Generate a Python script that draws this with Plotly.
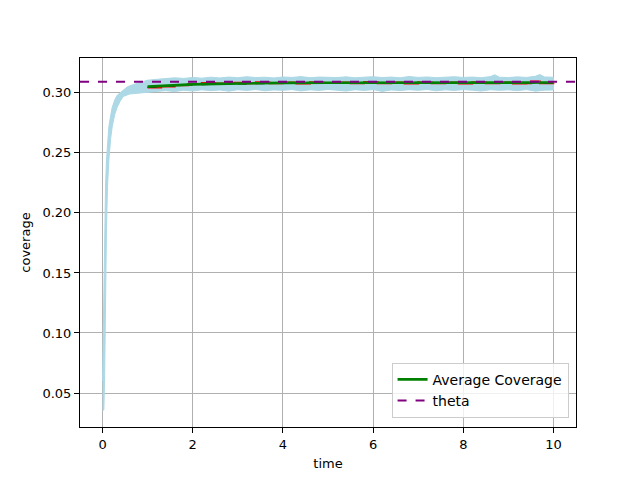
import plotly.graph_objects as go

# time / coverage
theta = 0.3093
x_range = [-0.5, 10.5]

# light blue band of the single runs: upper and lower edge
band_t_up = [0.0, 0.015, 0.03, 0.044, 0.066, 0.088, 0.11, 0.14, 0.18, 0.215, 0.27, 0.325, 0.39, 0.46, 0.55, 0.69, 0.84, 1.0,
             1.2, 1.4, 1.6, 1.8, 2.0, 2.2, 2.4, 2.6, 2.8, 3.0, 3.2, 3.4, 3.6, 3.8, 4.0, 4.2, 4.4, 4.6, 4.8, 5.0,
             5.2, 5.4, 5.6, 5.8, 6.0, 6.2, 6.4, 6.6, 6.8, 7.0, 7.2, 7.4, 7.6, 7.8, 8.0, 8.2, 8.4, 8.6, 8.7, 8.8,
             9.0, 9.2, 9.4, 9.6, 9.7, 9.8, 10.0]
band_up = [0.060, 0.105, 0.150, 0.188, 0.222, 0.244, 0.260, 0.272, 0.281, 0.288, 0.294, 0.298, 0.300, 0.3025, 0.305, 0.307, 0.3085, 0.3105,
           0.3112, 0.3118, 0.3125, 0.3120, 0.3128, 0.3122, 0.3130, 0.3124, 0.3131, 0.3126, 0.3134, 0.3127, 0.3130, 0.3124, 0.3132, 0.3128, 0.3135, 0.3126, 0.3131, 0.3129,
           0.3127, 0.3133, 0.3125, 0.3130, 0.3134, 0.3127, 0.3131, 0.3125, 0.3136, 0.3128, 0.3132, 0.3126, 0.3130, 0.3134, 0.3128, 0.3131, 0.3126, 0.3135, 0.3150, 0.3130,
           0.3127, 0.3133, 0.3128, 0.3138, 0.3152, 0.3132, 0.3130]
band_t_lo = [0.0, 0.029, 0.045, 0.066, 0.088, 0.11, 0.14, 0.18, 0.215, 0.27, 0.325, 0.39, 0.46, 0.6, 0.77, 1.0,
             1.2, 1.4, 1.6, 1.8, 2.0, 2.2, 2.4, 2.6, 2.8, 3.0, 3.2, 3.4, 3.6, 3.8, 4.0, 4.2, 4.4, 4.6, 4.8, 5.0,
             5.2, 5.4, 5.6, 5.8, 6.0, 6.2, 6.4, 6.6, 6.8, 7.0, 7.2, 7.4, 7.6, 7.8, 8.0, 8.2, 8.4, 8.6, 8.8,
             9.0, 9.2, 9.4, 9.6, 9.8, 10.0]
band_lo = [0.035, 0.036, 0.060, 0.105, 0.188, 0.222, 0.244, 0.262, 0.272, 0.282, 0.288, 0.293, 0.297, 0.299, 0.300, 0.3005,
           0.3012, 0.3018, 0.3010, 0.3022, 0.3015, 0.3025, 0.3018, 0.3024, 0.3014, 0.3026, 0.3020, 0.3028, 0.3017, 0.3024, 0.3021, 0.3027, 0.3016, 0.3025, 0.3020, 0.3028,
           0.3022, 0.3015, 0.3026, 0.3020, 0.3027, 0.3012, 0.3024, 0.3019, 0.3026, 0.3021, 0.3028, 0.3017, 0.3025, 0.3020, 0.3027, 0.3022, 0.3015, 0.3026, 0.3021,
           0.3025, 0.3018, 0.3027, 0.3014, 0.3022, 0.3024]

# average coverage (green) from t = 1
avg_t = [1.0, 1.25, 1.5, 1.75, 2.0, 2.5, 3.0, 3.5, 4.0, 5.0, 6.0, 7.0, 8.0, 9.0, 10.0]
avg_cov = [0.3052, 0.3058, 0.3063, 0.3067, 0.3070, 0.3075, 0.3079, 0.3081, 0.3083, 0.3084, 0.3085, 0.3085, 0.3086, 0.3086, 0.3086]

# red running value under the average
red_t = [1.0, 1.3, 1.6, 1.9, 2.2, 2.5, 2.8, 3.1, 3.4, 3.7, 4.0, 4.3, 4.6, 4.9, 5.2, 5.5, 5.8, 6.1, 6.4, 6.7,
         7.0, 7.3, 7.6, 7.9, 8.2, 8.5, 8.8, 9.1, 9.4, 9.5, 9.7, 10.0]
red_cov = [0.3045, 0.3052, 0.3064, 0.3074, 0.3082, 0.3078, 0.3084, 0.3079, 0.3088, 0.3080, 0.3086, 0.3078, 0.3089, 0.3081, 0.3087, 0.3079, 0.3090, 0.3080, 0.3087, 0.3078,
           0.3089, 0.3080, 0.3086, 0.3078, 0.3088, 0.3079, 0.3086, 0.3078, 0.3080, 0.3095, 0.3079, 0.3080]

# black dashed running value
blk_t = [1.0, 1.5, 2.0, 2.5, 3.0, 3.5, 4.0, 5.0, 6.0, 7.0, 8.0, 9.0, 10.0]
blk_cov = [0.3046, 0.3058, 0.3067, 0.3073, 0.3077, 0.3078, 0.3080, 0.3082, 0.3083, 0.3083, 0.3084, 0.3084, 0.3084]

fig = go.Figure()

fig.add_trace(go.Scatter(
    x=band_t_up + band_t_lo[::-1], y=band_up + band_lo[::-1],
    fill="toself", fillcolor="#add8e6", mode="lines",
    line=dict(color="#add8e6", width=1), showlegend=False, hoverinfo="skip"))

fig.add_trace(go.Scatter(x=red_t, y=red_cov, mode="lines", line=dict(color="red", width=2, shape="hv"),
                         showlegend=False))
fig.add_trace(go.Scatter(x=blk_t, y=blk_cov, mode="lines", line=dict(color="black", width=1.5, dash="dash"),
                         showlegend=False))
fig.add_trace(go.Scatter(x=avg_t, y=avg_cov, mode="lines", name="Average Coverage",
                         line=dict(color="green", width=2.7)))
fig.add_trace(go.Scatter(x=x_range, y=[theta, theta], mode="lines", name="theta",
                         line=dict(color="purple", width=2, dash="dash")))

axis_common = dict(showline=True, linecolor="black", linewidth=1, mirror=True,
                   ticks="outside", ticklen=5, tickcolor="black",
                   showgrid=True, gridcolor="#b0b0b0", gridwidth=1, zeroline=False,
                   tickfont=dict(size=13, color="black"))

fig.update_layout(
    width=640, height=480,
    margin=dict(l=72, r=72, t=50, b=61),
    paper_bgcolor="white", plot_bgcolor="white",
    font=dict(family="DejaVu Sans", size=13, color="black"),
    xaxis=dict(range=x_range, tickvals=[0, 2, 4, 6, 8, 10],
               title=dict(text="time", font=dict(size=13), standoff=8), **axis_common),
    yaxis=dict(range=[0.0217, 0.3290], tickvals=[0.05, 0.10, 0.15, 0.20, 0.25, 0.30], tickformat=".2f",
               title=dict(text="coverage", font=dict(size=13), standoff=8), **axis_common),
    legend=dict(x=0.985, y=0.025, xanchor="right", yanchor="bottom",
                bgcolor="rgba(255,255,255,0.8)", bordercolor="#cccccc", borderwidth=1,
                font=dict(size=14)),
    showlegend=True,
)

fig.write_html("out.html")
